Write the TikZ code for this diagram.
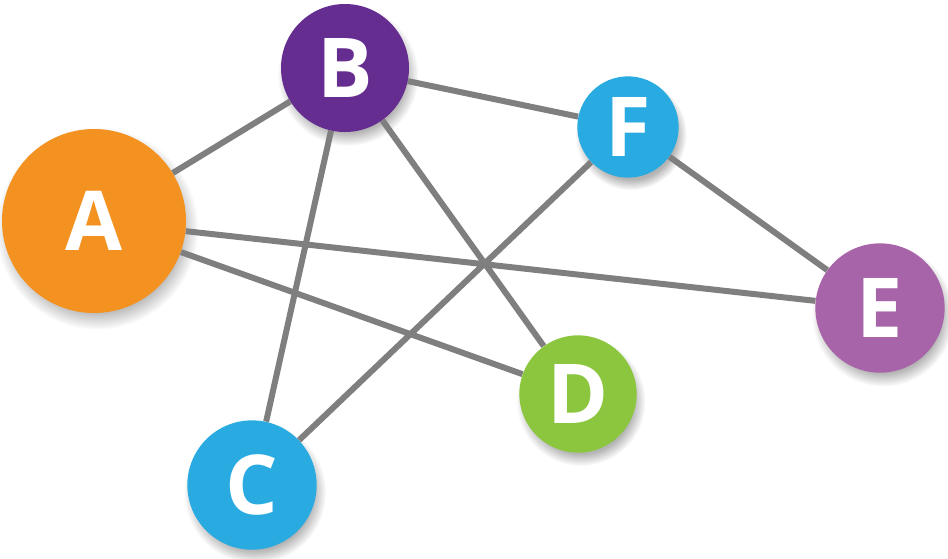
\documentclass[tikz,border=0pt]{standalone}
\usepackage{fontspec}
\setmainfont{Open Sans}
\usetikzlibrary{shadows,fadings,backgrounds}
\definecolor{orangeA}{HTML}{F39221}
\definecolor{purpleB}{HTML}{662D91}
\definecolor{blueC}{HTML}{29ABE2}
\definecolor{greenD}{HTML}{8CC63F}
\definecolor{purpleE}{HTML}{A864A8}
\definecolor{edgegray}{HTML}{7F7F7F}

\begin{document}
\begin{tikzpicture}[x=0.75pt,y=-0.75pt,
  vertex/.style={shape=circle,fill=#1,text=white,inner sep=0pt,
    font=\bfseries\fontsize{62}{62}\selectfont,
    drop shadow={opacity=0.6,shadow xshift=2pt,shadow yshift=-5pt,
      shadow scale=1.1,path fading=circle with fuzzy edge 20 percent}},
  edge/.style={draw=edgegray,line width=4.5pt}]
  \useasboundingbox (0,0) rectangle (948,558);
  \path (94,221) node[vertex=orangeA,minimum size=138pt] (A) {A}
  (345,68) node[vertex=purpleB,minimum size=96pt] (B) {B}
  (252,485) node[vertex=blueC,minimum size=97pt] (C) {C}
  (578,394) node[vertex=greenD,minimum size=88pt] (D) {D}
  (880,308) node[vertex=purpleE,minimum size=97pt] (E) {E}
  (628,127) node[vertex=blueC,minimum size=76pt] (F) {F};
  \begin{scope}[on background layer]
    \draw[edge] (A) -- (B) (A) -- (E) (A) -- (D) (B) -- (F) (B) -- (C) (B) -- (D) (F) -- (C) (F) -- (E);
  \end{scope}
\end{tikzpicture}
\end{document}
